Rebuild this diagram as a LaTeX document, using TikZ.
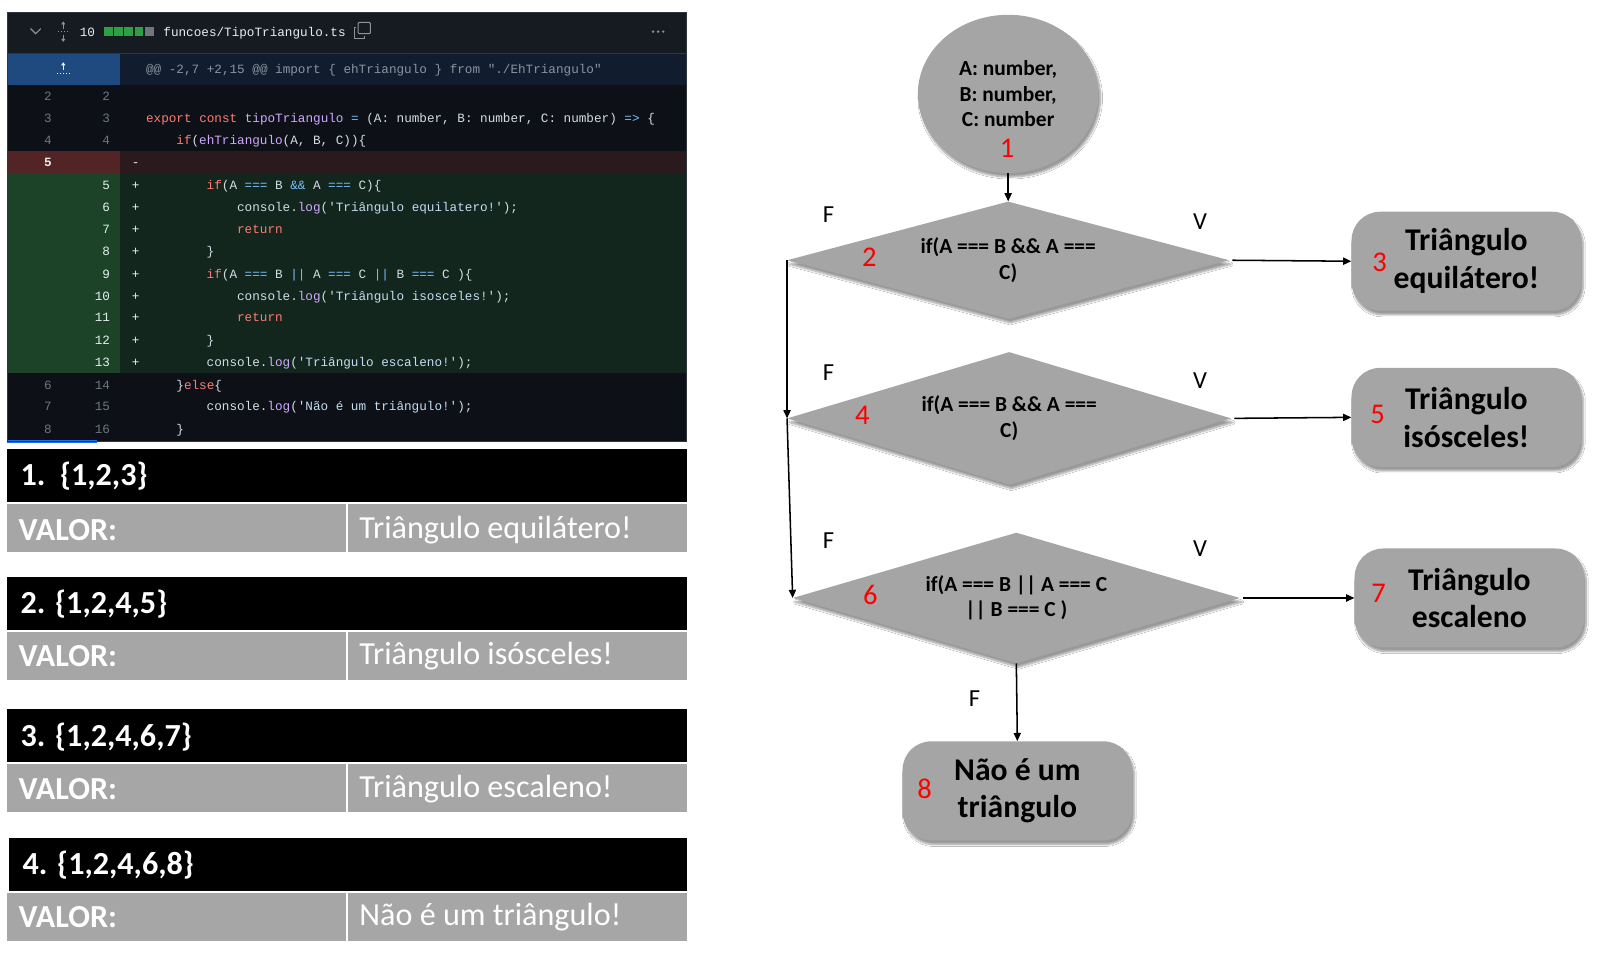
\documentclass[tikz,border=0pt]{standalone}
\usepackage{fontspec}
\setmainfont{Carlito}
\newfontfamily\codefont{Liberation Mono}
\usetikzlibrary{shapes.geometric,arrows.meta,shadows.blur}
\definecolor{hdrbg}{HTML}{161B22}
\definecolor{bodybg}{HTML}{0D1117}
\definecolor{hunkgut}{HTML}{1F4A80}
\definecolor{hunkbg}{HTML}{111D2E}
\definecolor{delgut}{HTML}{532426}
\definecolor{delbg}{HTML}{2A1A1E}
\definecolor{addgut}{HTML}{1C4328}
\definecolor{addbg}{HTML}{12261E}
\definecolor{panelborder}{HTML}{30363D}
\definecolor{codetxt}{HTML}{D5DCE3}
\definecolor{numgray}{HTML}{6E7681}
\definecolor{numwhite}{HTML}{E6EDF3}
\definecolor{hunktxt}{HTML}{8B949E}
\definecolor{kwred}{HTML}{FF7B72}
\definecolor{fnpurple}{HTML}{D2A8FF}
\definecolor{opblue}{HTML}{79C0FF}
\definecolor{strblue}{HTML}{C4DDF2}
\definecolor{sqgreen}{HTML}{2EA043}
\definecolor{cellgray}{HTML}{A6A6A6}
\definecolor{shapegray}{HTML}{A5A5A5}
\definecolor{numred}{HTML}{FF0000}
\definecolor{focusblue}{HTML}{1F6FEB}
\newcommand\ckw[1]{\textcolor{kwred}{#1}}
\newcommand\cfn[1]{\textcolor{fnpurple}{#1}}
\newcommand\cop[1]{\textcolor{opblue}{#1}}
\newcommand\cst[1]{\textcolor{strblue}{#1}}
\newcommand\q{\textquotesingle}
\tikzset{
  code/.style={font=\codefont\fontsize{12.4}{14}\selectfont, text=codetxt, anchor=base west, inner sep=0pt},
  lnum/.style={font=\codefont\fontsize{12.4}{14}\selectfont, text=numgray, anchor=base east, inner sep=0pt},
  lnumw/.style={lnum, text=numwhite},
  icon/.style={draw=hunktxt, line width=1.1pt},
  ttl/.style={anchor=west, text=white, font=\bfseries\fontsize{31.5}{36}\selectfont, inner sep=0pt},
  valor/.style={anchor=west, text=white, font=\bfseries\fontsize{31.5}{36}\selectfont, inner sep=0pt},
  valtxt/.style={anchor=west, text=white, font=\fontsize{31.5}{36}\selectfont, inner sep=0pt},
  shp/.style={fill=shapegray, blur shadow={shadow xshift=2pt, shadow yshift=-4pt, shadow blur steps=8, shadow opacity=40}},
  dia/.style={shp, diamond, shape aspect=3.8, inner sep=0pt, align=center, font=\bfseries\fontsize{21}{25}\selectfont},
  term/.style={shp, rectangle, rounded corners=28pt, minimum width=225pt, minimum height=97pt, align=center, inner sep=0pt, font=\bfseries\fontsize{31}{37}\selectfont},
  rnum/.style={text=numred, font=\fontsize{28}{30}\selectfont, inner sep=0pt},
  lbl/.style={font=\fontsize{24}{28}\selectfont, inner sep=0pt},
  arr/.style={-{Triangle[length=8pt,width=7pt]}, line width=1.5pt},
}
\begin{document}
\begin{tikzpicture}[x=1pt,y=-1pt]
\useasboundingbox[fill=white] (0,0) rectangle (1568,940.8);

% ---------------- code panel ----------------
\fill[hdrbg] (7,12) rectangle (673,52);
\fill[bodybg] (7,52) rectangle (673,433);
\fill[hunkgut] (7,52) rectangle (118,83);
\fill[hunkbg] (118,52) rectangle (673,83);
\fill[delgut] (7,148) rectangle (118,170);
\fill[delbg] (118,148) rectangle (673,170);
\fill[addgut] (7,170) rectangle (118,366);
\fill[addbg] (118,170) rectangle (673,366);
\fill[focusblue] (7,431) rectangle (95,434);
\draw[panelborder, line width=1pt] (7,52) -- (673,52);
\draw[panelborder, line width=1pt] (7,12) rectangle (673,433);

% header
\draw[icon] (30,28) -- (35,33) -- (40,28);
\draw[icon, line width=0.9pt, -{Triangle[length=3pt,width=4pt]}] (62,28) -- (62,21);
\draw[icon, line width=0.9pt, -{Triangle[length=3pt,width=4pt]}] (62,34) -- (62,41);
\draw[icon, line width=0.9pt, dotted] (57,31) -- (67,31);
\node[code, text=numwhite] (hnum) at (78,35.5) {10};
\foreach \i in {0,1,2,3} \fill[sqgreen] (102+\i*10,26) rectangle (110.5+\i*10,35);
\fill[numgray] (142,26) rectangle (150.5,35);
\node[code, text=numwhite] (hfile) at (160,35.5) {funcoes/TipoTriangulo.ts};
\draw[icon, line width=1pt, rounded corners=1pt] (351,22) rectangle (363,33);
\draw[icon, line width=1pt] (349,27) -- (347,27) -- (347,38) -- (357,38) -- (357,35);
\foreach \i in {0,1,2} \fill[hunktxt] (640+\i*5,31) circle (1.3);

% hunk row
\draw[draw=numwhite!70, line width=0.9pt, -{Triangle[length=3pt,width=4pt]}] (62,69) -- (62,61);
\draw[draw=numwhite!70, line width=0.9pt, dotted] (56,72) -- (68,72);
\node[code, text=hunktxt] (hunk) at (143,72) {@@ -2,7 +2,15 @@ import \{ ehTriangulo \} from "./EhTriangulo"};

% line numbers
\node[lnum] (o2) at (51,98.5) {2};   \node[lnum] (n2) at (108,98.5) {2};
\node[lnum] (o3) at (51,120.5) {3};  \node[lnum] (n3) at (108,120.5) {3};
\node[lnum] (o4) at (51,141.5) {4};  \node[lnum] (n4) at (108,141.5) {4};
\node[lnumw, font=\codefont\bfseries\fontsize{12.4}{14}\selectfont] (o5) at (51,163.5) {5};
\node[lnumw] (n5) at (108,185.5) {5};
\node[lnumw] (n6) at (108,207.5) {6};
\node[lnumw] (n7) at (108,228.5) {7};
\node[lnumw] (n8) at (108,250.5) {8};
\node[lnumw] (n9) at (108,272.5) {9};
\node[lnumw] (n10) at (108,294.5) {10};
\node[lnumw] (n11) at (108,315.5) {11};
\node[lnumw] (n12) at (108,337.5) {12};
\node[lnumw] (n13) at (108,359.5) {13};
\node[lnum] (o6) at (51,381.5) {6};  \node[lnum] (n14) at (108,381.5) {14};
\node[lnum] (o7) at (51,402.5) {7};  \node[lnum] (n15) at (108,402.5) {15};
\node[lnum] (o8) at (51,424.5) {8};  \node[lnum] (n16) at (108,424.5) {16};

% +/- markers
\node[code, text=numwhite] (m5) at (129,163.5) {-};
\foreach \yy [count=\k] in {185.5,207.5,228.5,250.5,272.5,294.5,315.5,337.5,359.5}
  \node[code, text=numwhite] (p\k) at (129,\yy) {+};

% code lines
\node[code] (c3) at (143,120.5) {\ckw{export} \ckw{const} \cfn{tipoTriangulo} \cop{=} (A: number, B: number, C: number) \cop{=>} \{};
\node[code] (c4) at (172.7,141.5) {\ckw{if}(\cfn{ehTriangulo}(A, B, C))\{};
\node[code] (c5) at (202.4,185.5) {\ckw{if}(A \cop{===} B \cop{\&\&} A \cop{===} C)\{};
\node[code] (c6) at (232.2,207.5) {console.\cfn{log}(\cst{\q Triângulo equilatero!\q});};
\node[code] (c7) at (232.2,228.5) {\ckw{return}};
\node[code] (c8) at (202.4,250.5) {\}};
\node[code] (c9) at (202.4,272.5) {\ckw{if}(A \cop{===} B \cop{||} A \cop{===} C \cop{||} B \cop{===} C )\{};
\node[code] (c10) at (232.2,294.5) {console.\cfn{log}(\cst{\q Triângulo isosceles!\q});};
\node[code] (c11) at (232.2,315.5) {\ckw{return}};
\node[code] (c12) at (202.4,337.5) {\}};
\node[code] (c13) at (202.4,359.5) {console.\cfn{log}(\cst{\q Triângulo escaleno!\q});};
\node[code] (c14) at (172.7,381.5) {\}\ckw{else}\{};
\node[code] (c15) at (202.4,402.5) {console.\cfn{log}(\cst{\q Não é um triângulo!\q});};
\node[code] (c16) at (172.7,424.5) {\}};

% ---------------- result tables ----------------
\fill[black] (7,440) rectangle (673,492);
\fill[cellgray] (7,494) rectangle (339,541);
\fill[cellgray] (341,494) rectangle (673,541);
\node[ttl] (t1) at (20,467) {1.\ \ \{1,2,3\}};
\node[valor] (v1) at (18,519) {VALOR:};
\node[valtxt] (w1) at (352,519) {Triângulo equilátero!};

\fill[black] (7,565) rectangle (673,617);
\fill[cellgray] (7,619) rectangle (339,666);
\fill[cellgray] (341,619) rectangle (673,666);
\node[ttl] (t2) at (20,592) {2. \{1,2,4,5\}};
\node[valor] (v2) at (18,643) {VALOR:};
\node[valtxt] (w2) at (352,643) {Triângulo isósceles!};

\fill[black] (7,695) rectangle (673,747);
\fill[cellgray] (7,749) rectangle (339,796);
\fill[cellgray] (341,749) rectangle (673,796);
\node[ttl] (t3) at (20,722) {3. \{1,2,4,6,7\}};
\node[valor] (v3) at (18,773) {VALOR:};
\node[valtxt] (w3) at (352,773) {Triângulo escaleno!};

\fill[black] (9,821) rectangle (673,873);
\fill[cellgray] (7,875) rectangle (339,922);
\fill[cellgray] (341,875) rectangle (673,922);
\node[ttl] (t4) at (22,848) {4. \{1,2,4,6,8\}};
\node[valor] (v4) at (18,899) {VALOR:};
\node[valtxt] (w4) at (352,899) {Não é um triângulo!};

% ---------------- flowchart ----------------
\node[shp, ellipse, minimum width=177pt, minimum height=155pt, inner sep=0pt, align=center,
      font=\bfseries\fontsize{21}{25}\selectfont] (e1) at (988,92) {A: number,\\B: number,\\C: number};
\node[dia, minimum width=433pt, minimum height=115pt] (d2) at (988,255) {if(A === B \&\& A ===\\C)};
\node[dia, minimum width=435pt, minimum height=130pt] (d4) at (989,410) {if(A === B \&\& A ===\\C)};
\node[dia, minimum width=438pt, minimum height=128pt] (d6) at (996,586) {if(A === B || A === C\\|| B === C )};
\node[term] (r3) at (1437,256) {Triângulo\\equilátero!};
\node[term] (r5) at (1437,409) {Triângulo\\isósceles!};
\node[term] (r7) at (1440,586) {Triângulo\\escaleno};
\node[term] (r8) at (997,775) {Não é um\\triângulo};

\node[rnum] (k1) at (987,145) {1};
\node[rnum] (k2) at (852,252) {2};
\node[rnum] (k3) at (1352,257) {3};
\node[rnum] (k4) at (845,407) {4};
\node[rnum] (k5) at (1350,406) {5};
\node[rnum] (k6) at (853,583) {6};
\node[rnum] (k7) at (1351,581) {7};
\node[rnum] (k8) at (906,773) {8};

\node[lbl] (f2) at (812,210) {F};
\node[lbl] (v2l) at (1176,217) {V};
\node[lbl] (f4) at (812,365) {F};
\node[lbl] (v4l) at (1176,373) {V};
\node[lbl] (f6) at (812,530) {F};
\node[lbl] (v6l) at (1176,538) {V};
\node[lbl] (f8) at (955,685) {F};

\draw[arr] (e1.south) -- (d2.north);
\draw[arr, shorten <=3pt] (d2.east) -- (r3.west);
\draw[arr, shorten <=3pt] (d4.east) -- (r5.west);
\draw[arr, shorten <=3pt] (d6.east) -- (r7.west);
\draw[arr] (d2.west) -- (d4.west);
\draw[arr] (d4.west) -- (d6.west);
\draw[arr] (d6.south) -- (r8.north);
\end{tikzpicture}
\end{document}
